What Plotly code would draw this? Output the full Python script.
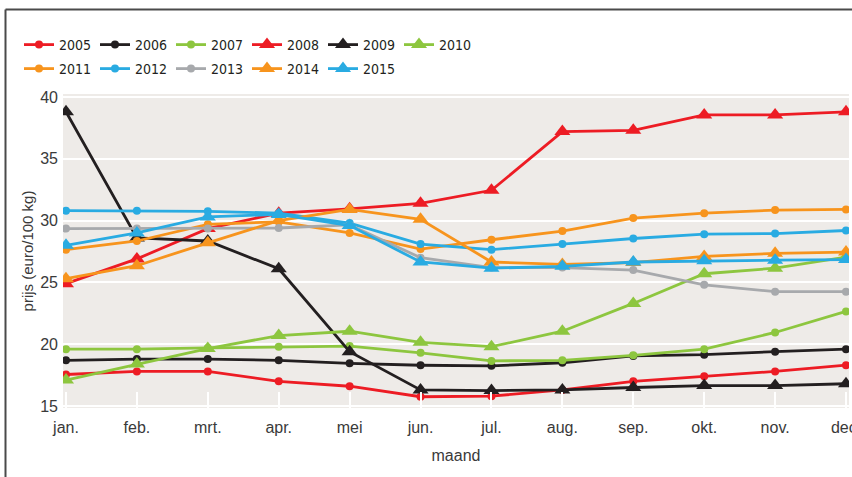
import plotly.graph_objects as go

months = ["jan.", "feb.", "mrt.", "apr.", "mei", "jun.", "jul.", "aug.", "sep.", "okt.", "nov.", "dec."]

y2005 = [17.55, 17.8, 17.8, 17.0, 16.6, 15.75, 15.8, 16.3, 17.0, 17.4, 17.8, 18.3]
y2006 = [18.7, 18.8, 18.8, 18.7, 18.45, 18.3, 18.25, 18.5, 19.05, 19.15, 19.4, 19.6]
y2007 = [19.6, 19.6, 19.7, 19.8, 19.85, 19.3, 18.65, 18.7, 19.1, 19.6, 20.95, 22.65]
y2008 = [24.9, 26.9, 29.35, 30.6, 30.95, 31.4, 32.45, 37.2, 37.3, 38.55, 38.55, 38.8]
y2009 = [38.8, 28.6, 28.35, 26.1, 19.4, 16.3, 16.25, 16.3, 16.5, 16.65, 16.65, 16.8]
y2010 = [17.1, 18.4, 19.65, 20.7, 21.05, 20.15, 19.8, 21.05, 23.3, 25.7, 26.15, 27.05]
y2011 = [27.65, 28.35, 29.7, 29.9, 29.0, 27.7, 28.45, 29.15, 30.2, 30.6, 30.85, 30.9]
y2012 = [30.8, 30.8, 30.75, 30.6, 29.8, 28.1, 27.65, 28.1, 28.55, 28.9, 28.95, 29.2]
y2013 = [29.35, 29.35, 29.35, 29.4, 29.65, 27.0, 26.2, 26.2, 26.0, 24.8, 24.25, 24.25]
y2014 = [25.3, 26.35, 28.2, 30.0, 30.9, 30.1, 26.65, 26.45, 26.6, 27.1, 27.35, 27.45]
y2015 = [28.0, 29.0, 30.3, 30.5, 29.6, 26.65, 26.15, 26.3, 26.65, 26.75, 26.8, 26.85]

RED = "#ed1c24"
BLACK = "#231f20"
GREEN = "#8dc63f"
ORANGE = "#f7941d"
BLUE = "#29abe2"
GRAY = "#a7a9ac"

series = [
    ("2005", y2005, RED, "circle", "legend"),
    ("2006", y2006, BLACK, "circle", "legend"),
    ("2007", y2007, GREEN, "circle", "legend"),
    ("2008", y2008, RED, "triangle-up", "legend"),
    ("2009", y2009, BLACK, "triangle-up", "legend"),
    ("2010", y2010, GREEN, "triangle-up", "legend"),
    ("2011", y2011, ORANGE, "circle", "legend2"),
    ("2012", y2012, BLUE, "circle", "legend2"),
    ("2013", y2013, GRAY, "circle", "legend2"),
    ("2014", y2014, ORANGE, "triangle-up", "legend2"),
    ("2015", y2015, BLUE, "triangle-up", "legend2"),
]

fig = go.Figure()
for name, ys, col, sym, leg in series:
    size = 8 if sym == "circle" else 14
    fig.add_trace(go.Scatter(
        x=months, y=ys, name=name, mode="lines+markers",
        line=dict(color=col, width=2.8),
        marker=dict(color=col, symbol=sym, size=size),
        legend=leg,
    ))

W, H = 852, 477
L, R, T, B = 63, 3, 94, 69
pw, ph = W - L - R, H - T - B

def px(x):
    return (x - L) / pw

def py(y):
    return (H - B - y) / ph

TXT = "#3a3a3a"
legend_font = dict(family="DejaVu Sans Condensed, Liberation Sans, sans-serif", size=14, color="#231f20")
common_leg = dict(orientation="h", xref="container", yref="container", xanchor="left", yanchor="middle",
                  bgcolor="rgba(0,0,0,0)", font=legend_font, entrywidth=31, itemwidth=30, tracegroupgap=0)

fig.update_layout(
    width=W, height=H,
    margin=dict(l=L, r=R, t=T, b=B),
    paper_bgcolor="white",
    plot_bgcolor="#eeebe8",
    font=dict(family="Liberation Sans, Arial, sans-serif", size=16, color=TXT),
    showlegend=True,
    legend=dict(x=19 / W, y=1 - 45 / H, **common_leg),
    legend2=dict(x=19 / W, y=1 - 69 / H, **common_leg),
    xaxis=dict(
        type="category", range=[-0.042, 11.042], automargin=False,
        showgrid=False, zeroline=False, showline=False,
        ticks="inside", ticklen=16, tickwidth=1.5, tickcolor="white",
        ticklabelstandoff=8,
        tickfont=dict(size=16, color=TXT),
        title=dict(text="maand", font=dict(size=16, color=TXT), standoff=14),
    ),
    yaxis=dict(
        range=[14.84, 40.24], tickvals=[15, 20, 25, 30, 35, 40], automargin=False,
        showgrid=True, gridcolor="white", gridwidth=2, zeroline=False, showline=False,
        ticks="", ticklabelstandoff=4, tickfont=dict(size=16, color=TXT),
        title=dict(text="prijs (euro/100 kg)", font=dict(size=15, color=TXT), standoff=2),
    ),
    shapes=[
        dict(type="line", xref="paper", yref="paper", x0=px(5.5), x1=px(852), y0=py(9.5), y1=py(9.5),
             line=dict(color="#4a4a4a", width=2)),
        dict(type="line", xref="paper", yref="paper", x0=px(5.5), x1=px(5.5), y0=py(9.5), y1=py(477),
             line=dict(color="#4a4a4a", width=2)),
    ],
)

fig.write_html("out.html", config={"displayModeBar": False},
               post_script="document.body.style.margin='0';document.body.style.overflow='hidden';")
